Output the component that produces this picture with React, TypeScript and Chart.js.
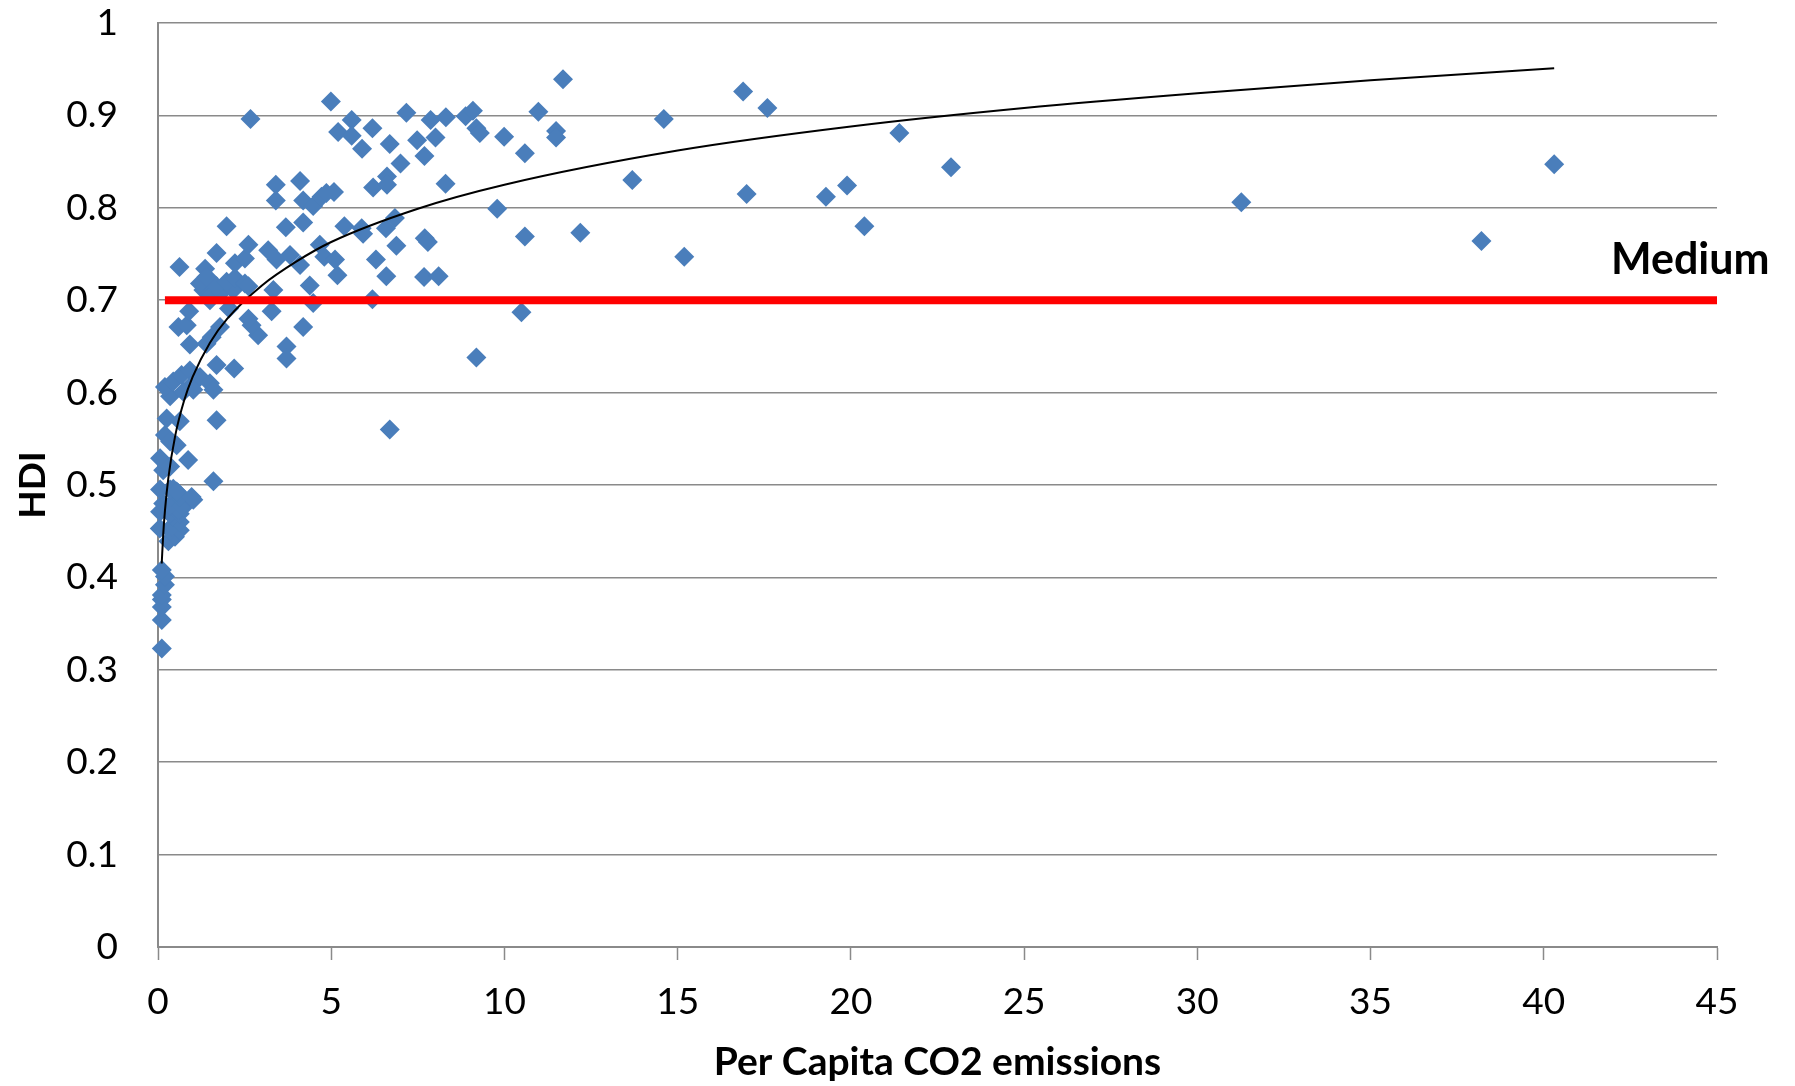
import React, { useEffect, useRef } from "react";
import { Chart, registerables } from "chart.js";

Chart.register(...registerables);

// Per capita CO2 emissions (x) and HDI (y), one entry per country
const co2: number[] = [
  0.11, 0.11, 0.11, 0.11, 0.11, 0.2, 0.2, 0.11, 0.3, 0.49,
  0.05, 0.35, 0.63, 0.4, 0.63, 0.44, 0.06, 0.35, 0.63, 0.59,
  0.73, 0.15, 0.35, 0.68, 1.02, 0.63, 0.06, 0.44, 0.59, 0.35,
  0.54, 0.97, 1.6, 0.15, 0.06, 0.35, 0.87, 0.2, 0.35, 0.54,
  0.25, 0.63, 1.69, 6.69, 0.35, 0.2, 0.44, 0.68, 0.92, 1.02,
  1.21, 0.73, 1.02, 1.5, 1.6, 1.69, 2.2, 0.92, 1.4, 1.55,
  3.71, 3.71, 2.89, 2.7, 2.61, 0.59, 0.83, 1.79, 4.19, 0.9,
  1.5, 2.05, 3.28, 4.48, 6.19, 1.31, 1.5, 1.84, 2.17, 3.33,
  1.21, 1.45, 1.69, 1.98, 2.22, 2.51, 2.61, 4.38, 0.62, 1.36,
  1.4, 2.22, 2.51, 3.18, 3.42, 3.81, 4.1, 1.69, 2.61, 4.67,
  4.8, 5.11, 5.18, 6.29, 6.59, 7.68, 8.1, 6.88, 7.7, 7.79,
  1.98, 3.69, 4.19, 5.38, 5.88, 5.92, 6.58, 6.84, 3.4, 3.4,
  4.1, 4.19, 4.48, 4.72, 4.86, 5.08, 6.21, 6.61, 6.61, 7.0,
  8.3, 7.69, 2.67, 4.99, 5.2, 5.59, 5.59, 5.89, 6.19, 6.69,
  7.17, 7.48, 7.87, 8.01, 8.31, 8.88, 9.09, 9.19, 9.29, 9.99,
  10.98, 11.69, 11.49, 11.49, 10.59, 9.79, 10.59, 12.19, 10.49, 9.19,
  13.69, 14.6, 15.19, 16.89, 17.59, 16.99, 19.28, 19.89, 20.39, 21.4,
  22.89, 31.27, 38.2, 40.3,
];

const hdi: number[] = [
  0.323, 0.354, 0.368, 0.376, 0.381, 0.392, 0.401, 0.408, 0.439, 0.444,
  0.453, 0.451, 0.451, 0.455, 0.46, 0.466, 0.471, 0.469, 0.469, 0.473,
  0.476, 0.48, 0.478, 0.477, 0.484, 0.487, 0.495, 0.496, 0.491, 0.495,
  0.493, 0.487, 0.504, 0.516, 0.529, 0.52, 0.527, 0.554, 0.547, 0.543,
  0.572, 0.569, 0.57, 0.56, 0.596, 0.606, 0.612, 0.619, 0.624, 0.61,
  0.617, 0.601, 0.603, 0.61, 0.603, 0.63, 0.626, 0.652, 0.653, 0.66,
  0.65, 0.637, 0.662, 0.673, 0.68, 0.671, 0.673, 0.671, 0.671, 0.688,
  0.7, 0.691, 0.688, 0.697, 0.701, 0.711, 0.704, 0.709, 0.711, 0.711,
  0.718, 0.724, 0.715, 0.72, 0.724, 0.718, 0.715, 0.716, 0.736, 0.734,
  0.725, 0.74, 0.745, 0.754, 0.744, 0.749, 0.738, 0.751, 0.76, 0.76,
  0.747, 0.744, 0.727, 0.744, 0.726, 0.725, 0.726, 0.759, 0.767, 0.763,
  0.78, 0.779, 0.784, 0.78, 0.778, 0.772, 0.778, 0.789, 0.808, 0.825,
  0.829, 0.808, 0.802, 0.812, 0.816, 0.817, 0.822, 0.834, 0.825, 0.848,
  0.826, 0.856, 0.896, 0.915, 0.882, 0.895, 0.878, 0.864, 0.886, 0.869,
  0.903, 0.873, 0.895, 0.876, 0.898, 0.899, 0.905, 0.886, 0.881, 0.877,
  0.904, 0.939, 0.883, 0.876, 0.859, 0.799, 0.769, 0.773, 0.687, 0.638,
  0.83, 0.896, 0.747, 0.926, 0.908, 0.815, 0.812, 0.824, 0.78, 0.881,
  0.844, 0.806, 0.764, 0.847,
];

// Logarithmic trend line
const trendX: number[] = [0.107, 0.15, 0.2, 0.3, 0.5, 0.75, 1, 1.5, 2, 3, 4, 5, 7.5, 10, 15, 20, 25, 30, 35, 40.3];
const trendY: number[] = [0.415, 0.446, 0.472, 0.508, 0.554, 0.591, 0.617, 0.654, 0.68, 0.716, 0.742, 0.763, 0.799, 0.825, 0.862, 0.888, 0.908, 0.924, 0.938, 0.951];

// "Medium" HDI threshold line
const mediumX: number[] = [0.2, 45];
const mediumY: number[] = [0.7, 0.7];
const mediumLabel = "Medium";
const mediumLabelAt = { x: 41.94, y: 0.728 };

const xTicks: number[] = [0, 5, 10, 15, 20, 25, 30, 35, 40, 45];
const yTicks: number[] = [0, 0.1, 0.2, 0.3, 0.4, 0.5, 0.6, 0.7, 0.8, 0.9, 1];

const xTitle = "Per Capita CO2 emissions";
const yTitle = "HDI";

const FONT = "Lato, 'Open Sans', 'DejaVu Sans', sans-serif";
const GRID = "#8a8a8a";

const labelPlugin = {
  id: "mediumLabel",
  afterDatasetsDraw(chart: any) {
    const { ctx, scales } = chart;
    const px = scales.x.getPixelForValue(mediumLabelAt.x);
    const py = scales.y.getPixelForValue(mediumLabelAt.y);
    ctx.save();
    ctx.font = `bold 43px ${FONT}`;
    ctx.fillStyle = "#000000";
    ctx.textAlign = "left";
    ctx.textBaseline = "alphabetic";
    ctx.fillText(mediumLabel, px, py);
    ctx.restore();
  },
};

export default function App() {
  const ref = useRef<HTMLCanvasElement | null>(null);

  useEffect(() => {
    if (!ref.current) return;
    const chart = new Chart(ref.current, {
      type: "scatter",
      data: {
        datasets: [
          {
            label: "Medium",
            data: mediumX.map((x, i) => ({ x, y: mediumY[i] })),
            showLine: true,
            borderColor: "#FF0000",
            backgroundColor: "#FF0000",
            borderWidth: 8,
            borderCapStyle: "butt",
            pointRadius: 0,
            order: 0,
          } as any,
          {
            label: "Trend",
            data: trendX.map((x, i) => ({ x, y: trendY[i] })),
            showLine: true,
            borderColor: "#000000",
            borderWidth: 2,
            pointRadius: 0,
            cubicInterpolationMode: "monotone",
            order: 1,
          } as any,
          {
            label: "HDI",
            data: co2.map((x, i) => ({ x, y: hdi[i] })),
            pointStyle: "rectRot",
            pointRadius: 10,
            pointBorderWidth: 0,
            backgroundColor: "#4A7EBB",
            borderColor: "#4A7EBB",
            clip: false,
            order: 2,
          } as any,
        ],
      },
      options: {
        animation: false,
        responsive: true,
        maintainAspectRatio: false,
        layout: { padding: { left: 0, top: 23, right: 78, bottom: 0 } },
        plugins: {
          legend: { display: false },
          tooltip: { enabled: false },
        },
        scales: {
          x: {
            type: "linear",
            min: 0,
            max: 45,
            afterBuildTicks: (s: any) => {
              s.ticks = xTicks.map((v) => ({ value: v }));
            },
            afterFit: (s: any) => {
              s.height = 139;
            },
            grid: {
              drawOnChartArea: false,
              drawTicks: true,
              tickLength: 13,
              tickColor: GRID,
              tickWidth: 1.5,
            },
            border: { display: true, color: GRID, width: 2 },
            ticks: {
              color: "#000000",
              padding: 20,
              maxRotation: 0,
              font: { family: FONT, size: 37 },
            },
            title: {
              display: true,
              text: xTitle,
              color: "#000000",
              padding: { top: 0, bottom: 0 },
              font: { family: FONT, size: 39, weight: "bold" },
            },
          },
          y: {
            type: "linear",
            min: 0,
            max: 1,
            afterBuildTicks: (s: any) => {
              s.ticks = yTicks.map((v) => ({ value: v }));
            },
            afterFit: (s: any) => {
              s.width = 158;
            },
            grid: {
              color: GRID,
              lineWidth: 1.5,
              drawTicks: true,
              tickLength: 38,
              tickColor: "rgba(0,0,0,0)",
            },
            border: { display: true, color: GRID, width: 2 },
            ticks: {
              color: "#000000",
              padding: 2,
              font: { family: FONT, size: 37, lineHeight: 1 },
              callback: (v: any) => String(Math.round(Number(v) * 10) / 10),
            },
            title: {
              display: true,
              text: yTitle,
              color: "#000000",
              padding: { top: 11, bottom: 0 },
              font: { family: FONT, size: 37, weight: "bold" },
            },
          },
        },
      },
      plugins: [labelPlugin],
    } as any);
    return () => chart.destroy();
  }, []);

  return (
    <div style={{ position: "fixed", left: 0, top: 0, width: 1795, height: 1086, background: "#ffffff" }}>
      <canvas ref={ref} style={{ display: "block" }} />
    </div>
  );
}
